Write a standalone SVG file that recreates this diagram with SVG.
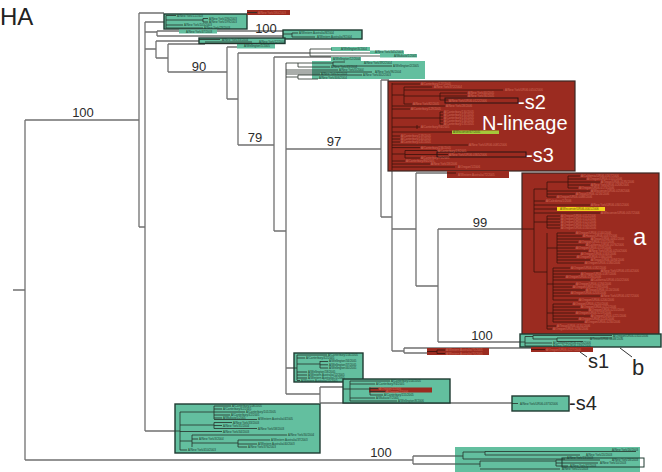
<svg xmlns="http://www.w3.org/2000/svg" width="662" height="472" viewBox="0 0 662 472">
<style>
.br{fill:none;stroke:#707070;stroke-width:1.3}
.tn{fill:none;stroke:#263029;stroke-width:0.8}
.tr{fill:none;stroke:#3a110b;stroke-width:0.8}
.gf{fill:#63bf9f}
.gb{fill:#63bf9f;stroke:#1f3a31;stroke-width:1.4}
.rf{fill:#9b2b20}
.rb{fill:#9b2b20;stroke:#3a2724;stroke-width:1.2}
.ob{fill:none;stroke:#2a1512;stroke-width:1}
.lg{font-family:"Liberation Sans",Arial,sans-serif;font-size:2.9px;fill:#1d3b31}
.lr{font-family:"Liberation Sans",Arial,sans-serif;font-size:2.9px;fill:#cf6d5b}
.num{font-family:"Liberation Sans",Arial,sans-serif;font-size:13px;fill:#2b2b2b;text-anchor:middle}
.bw{font-family:"Liberation Sans",Arial,sans-serif;font-size:20px;fill:#ffffff}
.bk{font-family:"Liberation Sans",Arial,sans-serif;font-size:20px;fill:#262626}
</style>

<g id="connectors">
<path class="br" d="M13,290H25 M25,120V460 M25,120H139 M25,460H413
M139,13V227 M139,13H164 M139,227H145
M145,22V431 M145,22H164 M145,431H180
M145,32H157 M157,31V36 M157,31H283 M157,36H283
M145,49H156 M156,41V58 M156,41H199 M156,58H168
M168,44V72 M168,44H205 M168,72H227
M227,47V99 M227,47H240 M227,99H238
M238,53V145 M238,53H310 M238,145H274
M274,57V231 M274,57H331 M274,231H286
M286,63V394 M286,149H381 M286,368H294 M286,394H320
M320,387V403 M320,387H343 M320,403H512
M381,80V217 M381,80H389 M381,217H392
M392,171V351 M392,229H416 M392,351H404
M416,173V286 M416,173H450 M416,286H438
M438,229V342 M438,229H522 M438,342H525
M404,348V353 M404,348H531 M404,353H427
M413,456V464 M413,456H463 M413,464H480"/>
</g>

<g id="title"><text x="0" y="25" font-family="Liberation Sans, Arial, sans-serif" font-size="24" fill="#222">HA</text></g>

<g id="support-values">
<text class="num" x="83" y="117">100</text>
<text class="num" x="266" y="33">100</text>
<text class="num" x="199" y="71">90</text>
<text class="num" x="255" y="142">79</text>
<text class="num" x="334" y="146">97</text>
<text class="num" x="480" y="227">99</text>
<text class="num" x="482" y="340">100</text>
<text class="num" x="381" y="457">100</text>
</g>

<g id="clade-top1">
<rect class="gb" x="164" y="14" width="83" height="15"/>
<rect class="rf" x="247" y="10" width="43" height="5"/>
<path class="tn" d="M166,15.5V28 M166,15.5H176 M166,20H203 M203,18.5V22 M203,18.5H208 M203,22H208 M166,25H183 M166,28H203 M247,12.5H257"/>
<text class="lg" x="177" y="16.5">A/New York/11/2003</text>
<text class="lg" x="209" y="19.5">A/New York/196/2003</text>
<text class="lg" x="209" y="22.8">A/New York/199/2003</text>
<text class="lg" x="184" y="25.8">A/New York/105/2003</text>
<text class="lg" x="204" y="28.8">A/New York/29/2003</text>
<text class="lr" x="258" y="13.5">A/New York/180/2003</text>
<rect class="gf" x="179" y="29.5" width="38" height="4"/>
<text class="lg" x="186" y="32.5">A/New York/47/2003</text>
</g>

<g id="clade-top2">
<rect class="gb" x="283" y="30" width="79" height="9"/>
<path class="tn" d="M283,34H292 M292,33V37 M292,33H298 M292,37H315"/>
<text class="lg" x="299" y="34">A/Western Australia/8/2004</text>
<text class="lg" x="317" y="37.6">A/Western Australia/9/2004</text>
</g>

<g id="clade-top3">
<rect class="gf" x="237" y="43.5" width="38" height="5"/>
<rect class="gb" x="199" y="38" width="86" height="5.5"/>
<path class="tn" d="M199,39.5H220 M205,42H252 M199,43.5H258"/>
<text class="lg" x="222" y="40.6">A/New York/33/2004</text>
<text class="lg" x="259" y="42.8">A/New York/12/2004</text>
<text class="lg" x="244" y="47.3">A/Wellington/1/2005</text>
</g>

<g id="clade-green4">
<rect class="gf" x="331" y="47" width="39" height="4"/>
<rect class="gf" x="370" y="50.5" width="34" height="3.5"/>
<rect class="gf" x="380" y="54" width="37" height="3.5"/>
<rect class="gf" x="331" y="57" width="30" height="4"/>
<rect class="gf" x="312" y="61" width="113" height="18"/>
<path class="tn" d="M310,49V56 M310,49H332 M310,53H370 M310,56H380
M286,63H298 M298,63V67 M298,63H333 M333,62V66 M333,62H345 M333,66H392 M298,67H330
M286,70H338 M286,72H372 M286,74H320 M286,77H298 M298,75V79 M298,75H362 M298,79H318"/>
<text class="lg" x="341" y="50">A/Wellington/6/2004</text>
<text class="lg" x="375" y="53.3">A/New York/345/2003</text>
<text class="lg" x="394" y="56.8">A/Waikato/1/2005</text>
<text class="lg" x="333" y="59.8">A/Wellington/12/2004</text>
<text class="lg" x="364" y="63.6">A/New York/392/2004</text>
<text class="lg" x="393" y="67">A/Wellington/2/2005</text>
<text class="lg" x="331" y="68">A/New York/43/2004</text>
<text class="lg" x="339" y="71">A/New York/5/2004</text>
<text class="lg" x="375" y="72.8">A/New York/96/2004</text>
<text class="lg" x="321" y="74.8">A/New York/32/2003</text>
<text class="lg" x="363" y="76.2">A/New York/402/2003</text>
<text class="lg" x="319" y="79.2">A/New York/406/2004</text>
</g>

<g id="clade-n-lineage">
<rect class="rb" x="388" y="81" width="187" height="90"/>
<path class="tr" d="M392,83V170 M392,84H420 M392,95H404 M404,87V104 M404,87H432 M404,90H503 M404,96H440 M440,93V100 M440,93H467 M440,96H467 M440,100H448 M404,104H412
M392,106H445 M392,109H410 M392,118H440 M440,112V124 M440,112H443 M440,115H443 M440,118H443 M440,121H443 M440,124H443
M392,127H417 M417,125V129 M417,127H420 M392,132H452 M392,136H400 M392,139H400 M392,142H400 M392,145H468 M392,147.6H420
M392,154H405 M405,150.5V158 M405,150.5H437 M405,154.5H448 M405,158H420 M392,161H405 M392,164H430 M392,167H455"/>
<rect class="ob" x="445" y="98" width="73" height="5"/>
<rect class="ob" x="437" y="152" width="89" height="5"/>
<rect x="452" y="130.5" width="47" height="3.5" fill="#a6c93a"/>
<text class="lr" x="421" y="85.2">A/Canterbury/127/2005</text>
<text class="lr" x="434" y="88.2">A/New York/372/2004</text>
<text class="lr" x="505" y="90.5">A/New York/UR06-0450/2006</text>
<text class="lr" x="468" y="94.2">A/New York/40/2005</text>
<text class="lr" x="468" y="97.2">A/New York/36/2005</text>
<text class="lr" x="449" y="101.6">A/New York/UR06-0122/2006</text>
<text class="lr" x="413" y="105">A/New York/82/2005</text>
<text class="lr" x="446" y="107.2">A/New York/28/2006</text>
<text class="lr" x="411" y="110.2">A/Canterbury/129/2005</text>
<text class="lr" x="444" y="113.2">A/Canterbury/130/2005</text>
<text class="lr" x="444" y="116.2">A/Canterbury/131/2005</text>
<text class="lr" x="444" y="119.2">A/Canterbury/133/2005</text>
<text class="lr" x="444" y="122.2">A/Canterbury/134/2005</text>
<text class="lr" x="444" y="125.2">A/Canterbury/135/2005</text>
<text class="lr" x="421" y="128.4">A/Canterbury/94/2005</text>
<text class="lg" x="453" y="133.3" style="fill:#3f5010">A/Wisconsin/67/2005</text>
<text class="lr" x="401" y="137.2">A/Canterbury/139/2005</text>
<text class="lr" x="401" y="140.2">A/Canterbury/140/2005</text>
<text class="lr" x="401" y="143.2">A/Canterbury/141/2005</text>
<text class="lr" x="469" y="146">A/New York/UR06-0081/2006</text>
<text class="lr" x="421" y="148.6">A/Canterbury/236/2005</text>
<text class="lr" x="438" y="151.6">A/Canterbury/19/2005</text>
<text class="lr" x="449" y="155.7">A/New York/UR06-0365/2006</text>
<text class="lr" x="421" y="159.2">A/Canterbury/75/2005</text>
<text class="lr" x="406" y="162.2">A/Canterbury/86/2005</text>
<text class="lr" x="431" y="165.2">A/New York/18/2006</text>
<text class="lr" x="458" y="168.2">A/Oregon/1/2006</text>
<text class="bw" x="518" y="108.5">-s2</text>
<text class="bw" x="482" y="130">N-lineage</text>
<text class="bw" x="526" y="162">-s3</text>
</g>

<g id="clade-wa-strip">
<rect class="rf" x="447" y="171" width="62" height="7"/>
<path class="tr" d="M447,173H456"/>
<text class="lr" x="458" y="175.5">A/Western Australia/72/2005</text>
</g>

<g id="clade-a">
<rect class="rb" x="522" y="173" width="137" height="162"/>
<rect x="557" y="207" width="48" height="4" fill="#f4d41c"/>
<path class="tr" d="M522,229H534 M534,189V272
M534,189H547 M547,182V197 M547,182H568 M568,176V188 M568,176H580 M568,179H586 M568,182H600 M568,185H590 M568,188H578
M547,191H590 M547,194H575 M547,197H556
M534,201H545 M534,205H590 M534,209H557 M534,213H600
M534,222H547 M547,216V228 M547,216H560 M547,219H560 M547,222H560 M547,225H560 M547,228H560
M534,272H547 M547,233V329
M547,248H557 M557,233V263 M557,233H575 M557,236H582 M557,239H590 M557,242H578 M557,245H585 M557,248H575 M557,251H588 M557,254H580 M557,257H576 M557,260H590 M557,263H584
M547,284H553 M553,268V300 M553,268H570 M553,271H600 M553,274H580 M553,277H565 M553,280H590 M553,284H575 M553,287H572 M553,290H585 M553,293H570 M553,296H600 M553,300H578
M547,313H553 M553,304V322 M553,304H572 M553,307H580 M553,310H588 M553,313H575 M553,316H590 M553,319H578 M553,322H584
M547,326H556 M547,329H552"/>
<text class="lr" x="581" y="177.1">A/California/UR06-0167/2006</text>
<text class="lr" x="587" y="180.1">A/Oregon/UR06-0101/2006</text>
<text class="lr" x="601" y="183.1">A/Texas/UR06-0195/2006</text>
<text class="lr" x="591" y="186.1">A/New York/UR06-0268/2006</text>
<text class="lr" x="579" y="189.1">A/Oregon/UR06-0173/2006</text>
<text class="lr" x="591" y="192.1">A/Wisconsin/UR06-0258/2006</text>
<text class="lr" x="576" y="195.1">A/Texas/UR06-0216/2006</text>
<text class="lr" x="557" y="198.1">A/Oregon/UR06-0088/2006</text>
<text class="lr" x="546" y="202.1">A/Caledonia/1/2006</text>
<text class="lr" x="591" y="206.1">A/New York/UR06-0301/2006</text>
<text class="lg" x="560" y="210.2" style="fill:#5a4700">A/Wisconsin/UR06-0001/2006</text>
<text class="lr" x="601" y="214.1">A/Wisconsin/UR06-0057/2006</text>
<text class="lr" x="561" y="217.1">A/Oregon/UR06-0112/2006</text>
<text class="lr" x="561" y="220.1">A/Oregon/UR06-0115/2006</text>
<text class="lr" x="561" y="223.1">A/Oregon/UR06-0121/2006</text>
<text class="lr" x="561" y="226.1">A/Oregon/UR06-0126/2006</text>
<text class="lr" x="561" y="229.1">A/Oregon/UR06-0130/2006</text>
<text class="lr" x="576" y="234.1">A/Oregon/UR06-0140/2006</text>
<text class="lr" x="583" y="237.1">A/Hawaii/UR06-0037/2006</text>
<text class="lr" x="591" y="240.1">A/Texas/UR06-0061/2006</text>
<text class="lr" x="579" y="243.1">A/Oregon/UR06-0151/2006</text>
<text class="lr" x="586" y="246.1">A/California/UR06-0076/2006</text>
<text class="lr" x="576" y="249.1">A/Oregon/UR06-0159/2006</text>
<text class="lr" x="589" y="252.1">A/New York/UR06-0250/2006</text>
<text class="lr" x="581" y="255.1">A/Oregon/UR06-0163/2006</text>
<text class="lr" x="577" y="258.1">A/Oregon/UR06-0166/2006</text>
<text class="lr" x="591" y="261.1">A/Texas/UR06-0094/2006</text>
<text class="lr" x="585" y="264.1">A/Oregon/UR06-0180/2006</text>
<text class="lr" x="571" y="269.1">A/Oregon/UR06-0182/2006</text>
<text class="lr" x="601" y="272.1">A/New York/UR06-0314/2006</text>
<text class="lr" x="581" y="275.1">A/Oregon/UR06-0187/2006</text>
<text class="lr" x="566" y="278.1">A/Oregon/UR06-0190/2006</text>
<text class="lr" x="591" y="281.1">A/California/UR06-0102/2006</text>
<text class="lr" x="576" y="285.1">A/Oregon/UR06-0194/2006</text>
<text class="lr" x="573" y="288.1">A/Oregon/UR06-0199/2006</text>
<text class="lr" x="586" y="291.1">A/Texas/UR06-0120/2006</text>
<text class="lr" x="571" y="294.1">A/Oregon/UR06-0203/2006</text>
<text class="lr" x="601" y="297.1">A/New York/UR06-0327/2006</text>
<text class="lr" x="579" y="301.1">A/Oregon/UR06-0206/2006</text>
<text class="lr" x="573" y="305.1">A/Oregon/UR06-0210/2006</text>
<text class="lr" x="581" y="308.1">A/Oregon/UR06-0212/2006</text>
<text class="lr" x="589" y="311.1">A/Oregon/UR06-0215/2006</text>
<text class="lr" x="576" y="314.1">A/Oregon/UR06-0219/2006</text>
<text class="lr" x="591" y="317.1">A/Oregon/UR06-0221/2006</text>
<text class="lr" x="579" y="320.1">A/Oregon/UR06-0224/2006</text>
<text class="lr" x="585" y="323.1">A/Oregon/UR06-0230/2006</text>
<text class="lr" x="557" y="327.1">A/Texas/UR06-0131/2006</text>
<text class="lr" x="553" y="330.1">A/Oregon/UR06-0236/2006</text>
<text class="bw" x="633" y="245" style="font-size:24px">a</text>
</g>

<g id="clade-b">
<rect class="gb" x="520" y="334" width="141" height="13"/>
<path class="tn" d="M520,342H525 M525,336.5V346 M525,336.5H533 M533,335.5V339 M533,335.5H612 M533,339H557 M557,338V341.5 M557,338H612 M557,341.5H583 M525,343H552 M525,346H552"/>
<text class="lg" x="613" y="336.8">A/Oregon/UR06-0310/2006</text>
<text class="lg" x="590" y="340">A/Texas/UR06-0048/2006</text>
<text class="lg" x="553" y="343.8">A/California/UR06-0290/2006</text>
<text class="lg" x="553" y="346.8">A/New York/UR06-0330/2006</text>
<path d="M620,348L632,357" fill="none" stroke="#333" stroke-width="1"/>
<text class="bk" x="632" y="375" style="font-size:22px">b</text>
</g>

<g id="clade-s1">
<rect class="rf" x="531" y="347" width="62" height="5"/>
<path class="tr" d="M531,349.5H545"/>
<text class="lr" x="546" y="350.6">A/Oregon/UR06-0227/2006</text>
<path d="M580,352L587,357" fill="none" stroke="#333" stroke-width="1"/>
<text class="bk" x="588" y="368">s1</text>
</g>

<g id="clade-wa-pair">
<rect class="rf" x="427" y="348" width="62" height="7"/>
<path class="tr" d="M427,351.5H437 M437,350V353.5 M437,350H445 M437,353.5H445"/>
<text class="lr" x="446" y="351">A/Western Australia/71/2005</text>
<text class="lr" x="446" y="354.5">A/Western Australia/70/2005</text>
</g>

<g id="clade-boxA">
<rect class="gb" x="294" y="353" width="69" height="29"/>
<path class="tn" d="M294,368H297 M297,355V380 M297,355H327 M297,358H305 M297,364H320 M320,361V368 M320,361.5H328 M320,364.8H328 M320,368H328 M297,372H307 M297,375H307 M297,378H307 M297,380.5H300"/>
<text class="lg" x="328" y="356">A/Canterbury/106/2005</text>
<text class="lg" x="306" y="359">A/Canterbury/42/2005</text>
<text class="lg" x="329" y="362.4">A/Wellington/34/2005</text>
<text class="lg" x="329" y="365.6">A/Wellington/37/2005</text>
<text class="lg" x="329" y="368.8">A/Wellington/40/2005</text>
<text class="lg" x="308" y="373">A/Wellington/18/2005</text>
<text class="lg" x="308" y="376">A/Western Australia/12/2005</text>
<text class="lg" x="308" y="379">A/Western Australia/21/2005</text>
<text class="lg" x="301" y="381.6">A/Western Australia/15/2005</text>
</g>

<g id="clade-boxB">
<rect class="gb" x="343" y="379" width="107" height="24"/>
<rect class="rf" x="369" y="387.5" width="63" height="5"/>
<path class="tn" d="M343,389H350 M350,381V401 M350,381H390 M350,384H375 M350,389H370 M370,387.5V395 M370,388.5H378 M370,391.5H385 M370,395H383 M350,398H375 M350,401H397"/>
<text class="lg" x="391" y="382.2">A/Canterbury/104/2005</text>
<text class="lg" x="376" y="385.2">A/Canterbury/94/2005</text>
<text class="lr" x="379" y="389.6">A/Oregon/5/2006</text>
<text class="lr" x="386" y="392.6">A/Oregon/7/2006</text>
<text class="lg" x="384" y="396.2">A/Canterbury/115/2005</text>
<text class="lg" x="376" y="399.2">A/Waikato/7/2005</text>
<text class="lg" x="398" y="402.2">A/Wellington/8/2006</text>
</g>

<g id="clade-s4">
<rect class="gb" x="512" y="396" width="57" height="15"/>
<path class="tn" d="M512,403.5H518"/>
<text class="lg" x="520" y="404.6">A/New York/UR06-0373/2006</text>
<text class="bk" x="569" y="410">-s4</text>
</g>

<g id="clade-lowleft">
<rect class="gb" x="175" y="404" width="145" height="49"/>
<path class="tn" d="M175,431H180 M180,412V450
M180,412H214 M214,406V419 M214,406H231 M214,409H222 M214,412H245 M214,415H230 M214,418H222 M214,419.5H257
M180,425H214 M214,422.5V428.5 M214,422.5H232 M214,425.5H222 M214,428.5H257
M180,431.5H222
M180,441H192 M192,435V447 M192,435H287 M192,439H198 M192,443H238 M238,440V447 M238,440H270 M238,444H257 M238,447H247
M180,450H187"/>
<text class="lg" x="232" y="407.2">A/Canterbury/108/2005</text>
<text class="lg" x="223" y="410.2">A/Canterbury/62/2005</text>
<text class="lg" x="246" y="413.2">A/Canterbury/101/2005</text>
<text class="lg" x="231" y="416.2">A/Canterbury/42/2005</text>
<text class="lg" x="223" y="419.2">A/Waikato/1/2005</text>
<text class="lg" x="258" y="420.4">A/Western Australia/4/2005</text>
<text class="lg" x="233" y="423.5">A/New York/33/2003</text>
<text class="lg" x="223" y="426.5">A/New York/31/2004</text>
<text class="lg" x="258" y="429.5">A/New York/58/2003</text>
<text class="lg" x="223" y="432.6">A/New York/34/2003</text>
<text class="lg" x="288" y="436.2">A/New York/30/2004</text>
<text class="lg" x="199" y="440.2">A/New York/3/2004</text>
<text class="lg" x="271" y="441.2">A/Western Australia/37/2003</text>
<text class="lg" x="258" y="445.2">A/Western Australia/40/2003</text>
<text class="lg" x="248" y="448.2">A/New York/376/2003</text>
<text class="lg" x="188" y="451.2">A/New York/410/2003</text>
</g>

<g id="clade-bottom">
<rect class="gf" x="455" y="447" width="185" height="25"/>
<path class="tn" d="M455,456H463 M463,452V459 M463,452H485 M485,451.5V455 M485,451.5H636 M485,455H580 M463,459H565 M455,464H480 M480,461V467 M480,461H556 M556,460V466 M556,460H600 M556,463H598 M556,466H568 M480,469H560"/>
<rect class="ob" x="562" y="458" width="82" height="9" style="stroke:#1f3a31"/>
<text class="lg" x="612" y="451.4">A/New York/16/2003</text>
<text class="lg" x="586" y="455.5">A/New York/20/2003</text>
<text class="lg" x="567" y="459.2">A/New York/13/2003</text>
<text class="lg" x="612" y="460.8">A/New York/18/2003</text>
<text class="lg" x="600" y="463.7">A/New York/10/2003</text>
<text class="lg" x="570" y="466.9">A/New York/32/2003</text>
<text class="lg" x="562" y="470">A/New York/25/2003</text>
</g>
</svg>
